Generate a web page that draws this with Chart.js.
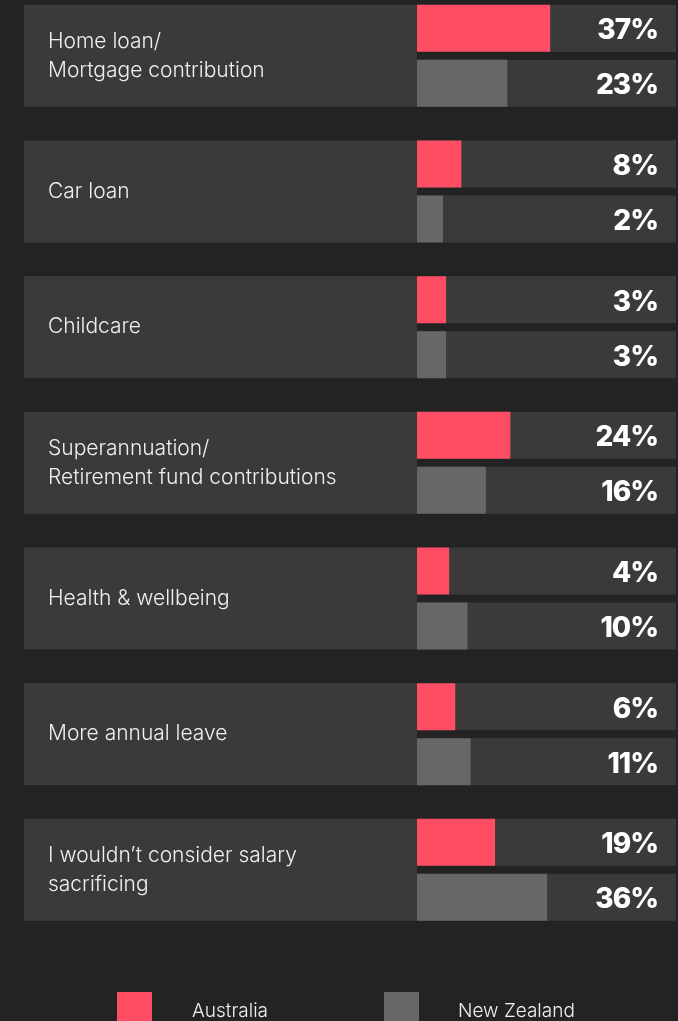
<!DOCTYPE html>
<html>
<head>
<meta charset="utf-8">
<script src="https://cdn.jsdelivr.net/npm/chart.js@4"></script>
<style>
html, body { margin: 0; padding: 0; background: #232323; }
#wrap { position: relative; width: 678px; height: 1021px; overflow: hidden; }
#chart { position: absolute; left: 0; top: -12px; }
</style>
</head>
<body>
<div id="wrap"><canvas id="chart" width="678" height="1033"></canvas></div>
<script>
var categories = [
  ["Home loan/", "Mortgage contribution"],
  "Car loan",
  "Childcare",
  ["Superannuation/", "Retirement fund contributions"],
  "Health & wellbeing",
  "More annual leave",
  ["I wouldn\u2019t consider salary", "sacrificing"]
];
var australia = [37, 8, 3, 24, 4, 6, 19];
var newZealand = [23, 2, 3, 16, 10, 11, 36];
var seriesNames = ["Australia", "New Zealand"];
var seriesColors = ["#ff4d64", "#676767"];

var FONT = "Inter, Lato, sans-serif";
var PANEL = "#3a3a3a";
var BASE = -6.5; // bars in the original keep a small stub even for tiny values

// panels behind labels + tracks behind bars
var panels = {
  id: "panels",
  beforeDraw: function(chart) {
    var ctx = chart.ctx, area = chart.chartArea;
    var m0 = chart.getDatasetMeta(0), m1 = chart.getDatasetMeta(1);
    ctx.save();
    ctx.fillStyle = PANEL;
    for (var i = 0; i < categories.length; i++) {
      var a = m0.data[i], b = m1.data[i];
      var top = a.y - a.height / 2, bottom = b.y + b.height / 2;
      ctx.fillRect(24, top, area.left - 24, bottom - top);
      ctx.fillRect(area.left, a.y - a.height / 2, area.right - area.left, a.height);
      ctx.fillRect(area.left, b.y - b.height / 2, area.right - area.left, b.height);
    }
    ctx.restore();
  },
  afterDatasetsDraw: function(chart) {
    var ctx = chart.ctx, area = chart.chartArea;
    ctx.save();
    ctx.fillStyle = "#ffffff";
    ctx.font = "800 28px " + FONT;
    ctx.letterSpacing = "-1px";
    ctx.textAlign = "right";
    ctx.textBaseline = "alphabetic";
    chart.data.datasets.forEach(function(ds, d) {
      chart.getDatasetMeta(d).data.forEach(function(bar, i) {
        ctx.fillText(ds.data[i] + "%", area.right - 18, bar.y + 11);
      });
    });
    ctx.restore();
  },
  afterDraw: function(chart) {
    // legend at the bottom
    var ctx = chart.ctx;
    var boxX = [117, 384], textX = [192, 458];
    ctx.save();
    ctx.font = "300 19px " + FONT;
    ctx.textBaseline = "alphabetic";
    ctx.textAlign = "left";
    chart.data.datasets.forEach(function(ds, d) {
      ctx.fillStyle = ds.backgroundColor;
      ctx.fillRect(boxX[d], 1004, 35, 35);
      ctx.fillStyle = "#efefef";
      ctx.fillText(ds.label, textX[d], 1029);
    });
    ctx.restore();
  }
};

var chart = new Chart(document.getElementById("chart"), {
  type: "bar",
  data: {
    labels: categories,
    datasets: [
      { label: seriesNames[0], data: australia, backgroundColor: seriesColors[0] },
      { label: seriesNames[1], data: newZealand, backgroundColor: seriesColors[1] }
    ]
  },
  options: {
    indexAxis: "y",
    responsive: false,
    animation: false,
    devicePixelRatio: 1,
    datasets: {
      bar: { base: BASE, categoryPercentage: 0.8108, barPercentage: 0.8545 }
    },
    layout: { padding: { top: 0, bottom: 83.33, left: 48, right: 2 } },
    scales: {
      x: { display: false, min: BASE, max: 78.1 },
      y: {
        grid: { display: false },
        border: { display: false },
        ticks: {
          crossAlign: "far",
          color: "#efefef",
          autoSkip: false,
          font: { family: FONT, size: 21, weight: "300", lineHeight: 1.38 }
        },
        afterFit: function(scale) {
          scale.width = 369;
          scale.paddingTop = 0;
          scale.paddingBottom = 0;
        }
      }
    },
    plugins: {
      legend: { display: false },
      tooltip: { enabled: false }
    }
  },
  plugins: [panels]
});
</script>
</body>
</html>
